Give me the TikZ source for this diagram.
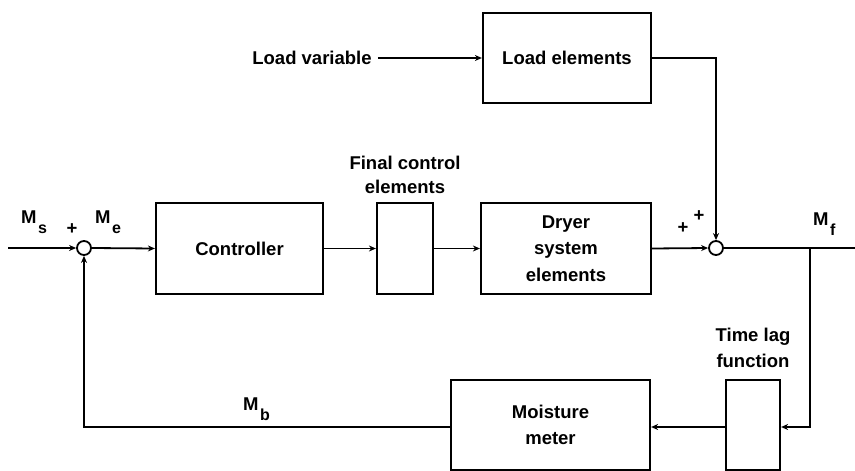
\documentclass[tikz,border=0pt]{standalone}
\usepackage{fontspec}
\setmainfont{Liberation Sans}
\usetikzlibrary{arrows.meta}
\newcommand\sigM[1]{M\hspace{1.5pt}\raisebox{-10pt}{\fontsize{16}{16}\selectfont #1}}
\begin{document}
\begin{tikzpicture}[x=1pt,y=-1pt,
  font=\fontsize{18.5}{18.5}\selectfont\bfseries,
  blk/.style={draw,line width=2.2pt,inner sep=0pt,align=center},
  sumj/.style={draw,circle,line width=1.8pt,minimum size=14pt,inner sep=0pt},
  lbl/.style={inner sep=0pt,align=center},
  conn/.style={line width=1.8pt,-{Stealth[length=7pt,width=6pt]}},
  wire/.style={line width=1.8pt}]
\useasboundingbox (0,0) rectangle (855,471);
% blocks
\node[blk,minimum width=167pt,minimum height=91pt] (ctrl) at (239.5,248.5) {Controller};
\node[blk,minimum width=56pt,minimum height=91pt] (fce) at (405,248.5) {};
\node[blk,minimum width=170pt,minimum height=91pt] (dryer) at (566,248.5) {Dryer\\[8pt]system\\[8pt]elements};
\node[blk,minimum width=168pt,minimum height=90pt] (load) at (567,58) {Load elements};
\node[blk,minimum width=54pt,minimum height=90pt] (tlag) at (753,425) {};
\node[blk,minimum width=199pt,minimum height=90pt] (moist) at (550.5,425) {\raisebox{-3pt}{\shortstack{Moisture\\[10pt]meter}}};
\node[sumj] (s1) at (84,248) {};
\node[sumj] (s2) at (716,248) {};
% labels
\node[lbl] (lv) at (312,58) {Load variable};
\node[lbl] (fcl) at (405,175) {Final control\\[6pt]elements};
\node[lbl] (tll) at (753,348) {Time lag\\[8pt]function};
\node[lbl,anchor=base west] (ms) at (21,223) {\sigM{s}};
\node[lbl,anchor=base west] (me) at (95,223) {\sigM{e}};
\node[lbl,anchor=base west] (mf) at (813,225) {\sigM{f}};
\node[lbl,anchor=base west] (mb) at (243,410) {\sigM{b}};
\node[lbl] (p1) at (72,229) {+};
\node[lbl] (p2) at (683,228) {+};
\node[lbl] (p3) at (699,216) {+};
% coordinates
\coordinate (in) at (8,248);
\coordinate (out) at (855,248);
\coordinate (tap) at (810,248);
\coordinate (tapd) at (810,427);
\coordinate (fbl) at (84,427);
\coordinate (ldc) at (716,58);
% connectors
\draw[conn] (in) -- (s1.west);
\draw[conn] (s1.east) -- (ctrl.west);
\draw[conn] (ctrl.east) -- (fce.west);
\draw[conn] (fce.east) -- (dryer.west);
\draw[conn] (dryer.east) -- (s2.west);
\draw[wire] (s2.east) -- (out);
\draw[conn] (lv.east) ++(6pt,0) -- (load.west);
\draw[conn] (load.east) -- (ldc) -- (s2.north);
\draw[conn] (tap) -- (tapd) -- (tlag.east |- tapd);
\draw[conn] (tlag.west |- tapd) -- (moist.east |- tapd);
\draw[conn] (moist.west |- fbl) -- (fbl) -- (s1.south);
\end{tikzpicture}
\end{document}
